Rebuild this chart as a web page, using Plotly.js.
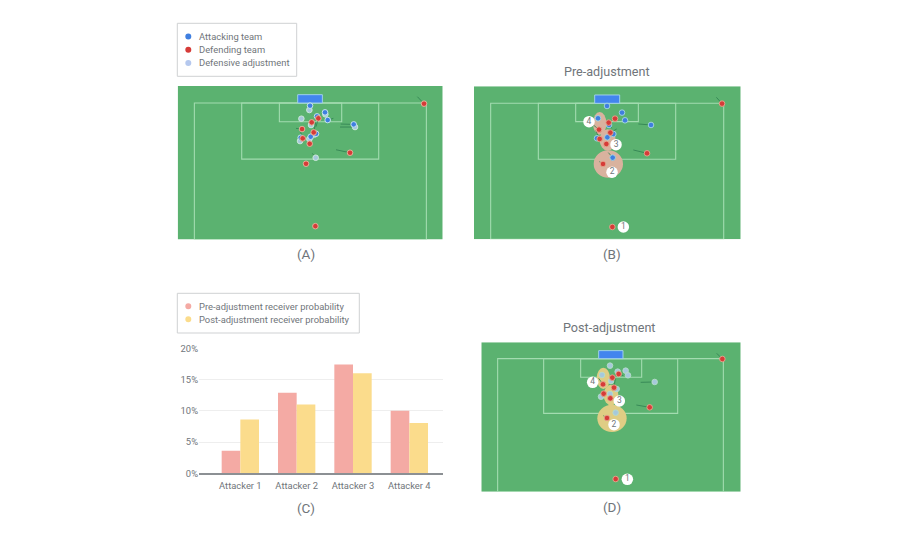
<!DOCTYPE html>
<html><head><meta charset="utf-8">
<script src="https://cdn.plot.ly/plotly-3.0.1.min.js"></script>
<style>html,body{margin:0;padding:0;background:#fff}#chart{width:920px;height:536px}</style>
</head><body><div id="chart"></div>
<script>
// ---- Data: panel A
const aAttackX=[420,441,465,473,551,438,422,392];
const aAttackY=[272,304,292,315,328,356,365,368];
const aAdjustX=[418,394,466,423,555,390,418,437,434];
const aAdjustY=[285,311,298,330,336,378,372,428,358];
const aDefendX=[762,425,445,396,431,398,419,540,408,436];
const aDefendY=[266,322,310,342,352,370,386,413,446,633];
const aMoveX=[762,742,null,551,512,null,555,510,null,540,498,null,473,490,null,437,427,null,396,378,null,431,437,null,445,438,null,398,390];
const aMoveY=[266,245,null,328,327,null,336,336,null,413,404,null,315,310,null,428,415,null,342,340,null,352,322,null,310,335,null,370,345];
// ---- Data: panel B
const bAttackX=[426,471,480,558,399,432,445,427,396,443];
const bAttackY=[138,158,181,195,175,195,222,232,235,293];
const bDefendX=[771,450,431,402,436,404,424,546,414,442];
const bDefendY=[131,176,188,209,218,237,252,280,312,501];
const bMoveX=[771,754,null,558,520,null,546,505,null,443,430,null,414,403,null,402,385,null,436,455,null,431,440,null,404,392];
const bMoveY=[131,112,null,195,192,null,280,270,null,293,278,null,312,305,null,209,195,null,218,207,null,188,205,null,237,212];
const bLabelX=[475,441,453,372];
const bLabelY=[501,337,254,185];
// ---- Data: panel D
const dAdjustX=[420,443,467,474,554,396,423,440,420,393,437];
const dAdjustY=[152,170,167,181,201,180,198,222,237,245,293];
const dDefendX=[757,446,427,399,432,401,421,539,411,437];
const dDefendY=[132,177,188,208,218,236,250,277,309,492];
const dMoveX=[757,740,null,554,512,null,539,499,null,446,460,null,432,436,null,411,400,null,399,386];
const dMoveY=[132,115,null,201,202,null,277,270,null,177,182,null,218,190,null,309,302,null,208,190];
const dLabelX=[472,432,448,368];
const dLabelY=[493,329,258,202];
const labelText=["1","2","3","4"];
// ---- Data: panel C
const attackers=["Attacker 1","Attacker 2","Attacker 3","Attacker 4"];
const preProb=[3.6,12.9,17.4,10.0];
const postProb=[8.6,11.0,16.0,8.05];
const pctTicks=[0,5,10,15,20];
const pctLabels=["0%","5%","10%","15%","20%"];

// ---- Style
const W=920,H=536;
const TXT="#70757a", FONT="Roboto, sans-serif";
const BLUE="#3f7fe0", RED="#d63b38", ADJ="#a6c8dc", ADJ_LEG="#b5c8ee";
const PRE="#f4aaa4", POST="#fbdc8c", GRASS="#5bb270", LINE="#a3dcb0", MOVE="#2f7f50";
const dx=(l,r)=>[l/W,r/W], dy=(t,b)=>[1-b/H,1-t/H];
const px=x=>x/W, py=y=>1-y/H;

function pitchAxes(n,left,right,top,bottom,xr,yr){
  const s=n===1?"":String(n);
  return {
    ["xaxis"+s]:{domain:dx(left,right),range:xr,visible:false,fixedrange:true,anchor:"y"+s},
    ["yaxis"+s]:{domain:dy(top,bottom),range:yr,visible:false,fixedrange:true,anchor:"x"+s}
  };
}
function pitchShapes(n,g){
  const s=n===1?"":String(n), xref="x"+s, yref="y"+s;
  const ln={color:LINE,width:1.1};
  const r=(x0,x1,y0,y1,extra)=>Object.assign({type:"rect",layer:"below",xref,yref,x0,x1,y0,y1,line:{width:0}},extra);
  return [
    r(g.xr[0],g.xr[1],g.yr[1],g.yr[0],{fillcolor:GRASS}),
    r(g.left,g.right,g.top,g.yr[0],{line:{color:LINE,width:1.1}}),
    r(g.pl,g.pr,g.top,g.pb,{line:ln}),
    r(g.sl,g.sr,g.top,g.sb,{line:ln}),
    r(g.gl,g.gr,g.gt,g.top,{fillcolor:"#4285ee",line:{color:"#9fd0e8",width:1}})
  ];
}
function blob(n,cx,cy,rx,ry,fill){
  const s=n===1?"":String(n);
  return {type:"circle",layer:"below",xref:"x"+s,yref:"y"+s,x0:cx-rx,x1:cx+rx,y0:cy-ry,y1:cy+ry,fillcolor:fill,line:{width:0}};
}
function pts(n,x,y,color,ring,name){
  const s=n===1?"":String(n);
  return {type:"scatter",mode:"markers",name,x,y,xaxis:"x"+s,yaxis:"y"+s,hoverinfo:"skip",
    marker:{size:5.6,color,line:{color:ring,width:0.9}}};
}
function moves(n,x,y){
  const s=n===1?"":String(n);
  return {type:"scatter",mode:"lines",x,y,xaxis:"x"+s,yaxis:"y"+s,hoverinfo:"skip",line:{color:MOVE,width:0.8}};
}
function labels(n,x,y){
  const s=n===1?"":String(n);
  return {type:"scatter",mode:"markers+text",x,y,text:labelText,textposition:"middle center",xaxis:"x"+s,yaxis:"y"+s,hoverinfo:"skip",
    marker:{size:11.5,color:"#ffffff",line:{width:0}},textfont:{size:8.5,color:TXT,family:FONT}};
}

const geoA={xr:[23,818],yr:[673,213],left:73,right:769,top:264,pl:215,pr:626,pb:432,sl:328,sr:515,sb:320,gl:383,gr:457,gt:239};
const geoB={xr:[27,827],yr:[538,79],left:77,right:776,top:130,pl:220,pr:632,pb:298,sl:332,sr:520,sb:185,gl:389,gr:464,gt:105};
const geoD={xr:[34,812],yr:[530,82],left:83,right:760,top:131,pl:221,pr:623,pb:295,sl:332,sr:515,sb:187,gl:386,gr:459,gt:107};

const traces=[
  moves(1,aMoveX,aMoveY),
  pts(1,aAdjustX,aAdjustY,ADJ,"#d3ecdc","Defensive adjustment"),
  pts(1,aAttackX,aAttackY,BLUE,"#d3ecf0","Attacking team"),
  pts(1,aDefendX,aDefendY,RED,"#e9b9a0","Defending team"),
  moves(2,bMoveX,bMoveY),
  pts(2,bAttackX,bAttackY,BLUE,"#a8d8e0","Attacking team"),
  pts(2,bDefendX,bDefendY,RED,"#e5a890","Defending team"),
  labels(2,bLabelX,bLabelY),
  {type:"bar",name:"Pre-adjustment receiver probability",x:attackers,y:preProb,xaxis:"x3",yaxis:"y3",marker:{color:PRE,line:{width:0}},hoverinfo:"skip"},
  {type:"bar",name:"Post-adjustment receiver probability",x:attackers,y:postProb,xaxis:"x3",yaxis:"y3",marker:{color:POST,line:{width:0}},hoverinfo:"skip"},
  moves(4,dMoveX,dMoveY),
  pts(4,dAdjustX,dAdjustY,ADJ,"#b5dcc8","Defensive adjustment"),
  pts(4,dDefendX,dDefendY,RED,"#e5a890","Defending team"),
  labels(4,dLabelX,dLabelY)
];

const BLOB_B="#d9b29e", BLOB_D="#dfcd84";
const swatch=(x,y,c)=>({type:"circle",xref:"paper",yref:"paper",x0:px(x-3),x1:px(x+3),y0:py(y+3),y1:py(y-3),fillcolor:c,line:{width:0}});
const box=(x0,x1,y0,y1)=>({type:"rect",xref:"paper",yref:"paper",x0:px(x0),x1:px(x1),y0:py(y1),y1:py(y0),line:{color:"#cfd1d3",width:1},fillcolor:"#ffffff"});

const shapes=[].concat(
  pitchShapes(1,geoA),
  pitchShapes(2,geoB),
  [blob(2,404,190,20,34,BLOB_B),blob(2,428,240,24,32,BLOB_B),blob(2,430,312,44,41,BLOB_B)],
  pitchShapes(4,geoD),
  [blob(4,400,190,20,32,BLOB_D),blob(4,423,240,22,31,BLOB_D),blob(4,426,310,44,41,BLOB_D)],
  [box(177.3,296.7,23.3,76.3),box(177.3,359.3,293.3,333),
   swatch(188.3,36.5,BLUE),swatch(188.3,49.7,RED),swatch(188.3,63,ADJ_LEG),
   swatch(188.3,306.3,PRE),swatch(188.3,319.3,POST)]
);

const note=(text,x,y,size,anchor)=>({text,xref:"paper",yref:"paper",x:px(x),y:py(y),xanchor:anchor||"center",yanchor:"middle",showarrow:false,font:{family:FONT,size,color:TXT}});
const annotations=[
  note("Attacking team",197.3,36.5,9.4,"left"),
  note("Defending team",197.3,49.7,9.4,"left"),
  note("Defensive adjustment",197.3,63,9.4,"left"),
  note("Pre-adjustment receiver probability",197.3,306.3,9.4,"left"),
  note("Post-adjustment receiver probability",197.3,319.3,9.4,"left"),
  note("Pre-adjustment",606.7,72,12.6),
  note("Post-adjustment",608.7,327.7,12.6),
  note("(A)",306,254,13.5),
  note("(B)",611.7,254,13.5),
  note("(C)",306,507.5,13.5),
  note("(D)",611.7,507,13.5)
];

const layout=Object.assign({
  width:W,height:H,margin:{l:0,r:0,t:0,b:0},paper_bgcolor:"#fff",plot_bgcolor:"rgba(0,0,0,0)",
  showlegend:false,barmode:"group",bargap:0.337,bargroupgap:0,font:{family:FONT,color:TXT},
  shapes,annotations,
  xaxis3:{domain:dx(199,443.3),anchor:"y3",type:"category",categoryorder:"array",categoryarray:attackers,
    range:[-0.734,3.603],fixedrange:true,showgrid:false,showline:true,linecolor:"#8c9094",linewidth:1.3,ticks:"",zeroline:false,
    ticklabelstandoff:3,tickfont:{size:9.4,color:TXT,family:FONT}},
  yaxis3:{domain:dy(348.3,473.3),anchor:"x3",range:[0,20],fixedrange:true,tickmode:"array",tickvals:pctTicks,ticktext:pctLabels,
    showgrid:true,gridcolor:"#eeeeee",gridwidth:1,zeroline:false,showline:false,ticks:"",tickfont:{size:9.4,color:TXT,family:FONT}}
},
  pitchAxes(1,177.7,442.7,86,239.5,geoA.xr,geoA.yr),
  pitchAxes(2,474,740.7,86.3,239.3,geoB.xr,geoB.yr),
  pitchAxes(4,481.3,740.7,342.3,491.7,geoD.xr,geoD.yr)
);
Plotly.newPlot("chart",traces,layout,{displayModeBar:false,staticPlot:true});
</script></body></html>
